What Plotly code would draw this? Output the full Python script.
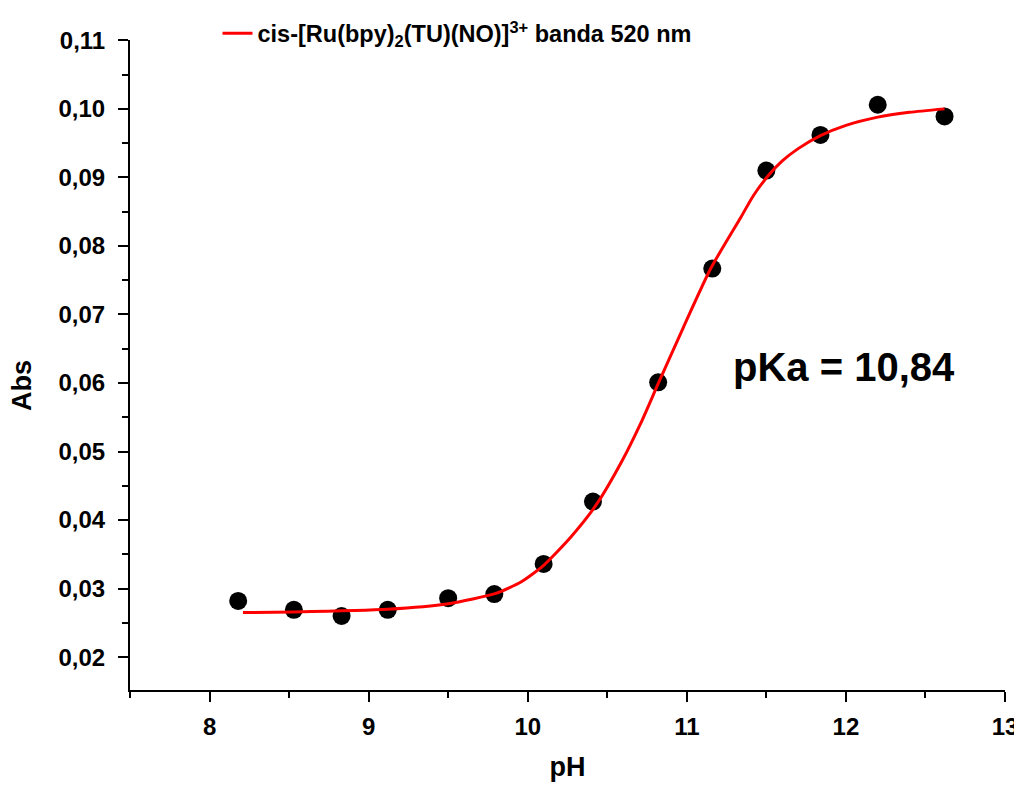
import plotly.graph_objects as go

# Measured points
ph = [8.18, 8.53, 8.83, 9.12, 9.50, 9.79, 10.10, 10.41, 10.82, 11.16, 11.50, 11.84, 12.20, 12.62]
absorb = [0.0282, 0.0269, 0.0260, 0.0269, 0.0286, 0.0292, 0.0336, 0.0427, 0.0601, 0.0767, 0.0910, 0.0962, 0.1006, 0.0989]

# Fit curve
fit_ph = [8.21, 8.53, 9.12, 9.50, 9.80, 9.96, 10.10, 10.27, 10.43, 10.59, 10.71, 10.82,
          10.98, 11.15, 11.34, 11.42, 11.51, 11.60, 11.70, 11.84, 12.00, 12.20, 12.40, 12.62]
fit_abs = [0.0265, 0.0266, 0.0270, 0.0278, 0.0293, 0.0310, 0.0334, 0.0375, 0.0422, 0.0485,
           0.0541, 0.0599, 0.0682, 0.0767, 0.0842, 0.0874, 0.0902, 0.0924, 0.0942, 0.0961,
           0.0976, 0.0988, 0.0995, 0.1000]

legend_label = "cis-[Ru(bpy)<sub>2</sub>(TU)(NO)]<sup>3+</sup> banda 520 nm"
pka_label = "pKa = 10,84"
x_title = "pH"
y_title = "Abs"

FONT = "Liberation Sans, Arial, sans-serif"

fig = go.Figure()
fig.add_trace(go.Scatter(
    x=ph, y=absorb, mode="markers",
    marker=dict(color="black", size=18),
    showlegend=False, cliponaxis=False,
))
fig.add_trace(go.Scatter(
    x=fit_ph, y=fit_abs, mode="lines",
    line=dict(color="#ff0000", width=3, shape="spline", smoothing=0.6),
    name=legend_label, showlegend=True,
))

fig.add_annotation(
    x=11.28, y=0.0623, xref="x", yref="y", text=pka_label, showarrow=False,
    xanchor="left", yanchor="middle",
    font=dict(family=FONT, size=40, color="black", weight="bold"),
)
fig.add_annotation(
    x=-0.1234, y=0.4677, xref="paper", yref="paper", text=y_title, showarrow=False,
    xanchor="center", yanchor="middle", textangle=-90,
    font=dict(family=FONT, size=27, color="black", weight="bold"),
)

axis_common = dict(
    showline=True, linecolor="black", linewidth=2,
    ticks="outside", ticklen=10, tickwidth=2, tickcolor="black",
    showgrid=False, zeroline=False, mirror=False, automargin=False,
    tickfont=dict(family=FONT, size=24, color="black", weight="bold"),
)

fig.update_layout(
    width=1014, height=775,
    margin=dict(l=122, r=17, t=32, b=93, autoexpand=False),
    plot_bgcolor="white", paper_bgcolor="white",
    separators=",.",
    font=dict(family=FONT, color="black"),
    showlegend=True,
    legend=dict(
        x=0.1, y=1.01, xanchor="left", yanchor="middle",
        bgcolor="rgba(0,0,0,0)",
        font=dict(family=FONT, size=23.5, color="black", weight="bold"),
    ),
    xaxis=dict(
        range=[7.5, 13], dtick=1, tick0=0, ticklabelstandoff=4,
        minor=dict(dtick=0.5, ticklen=6, tickwidth=2, tickcolor="black", ticks="outside"),
        title=dict(text=x_title, font=dict(family=FONT, size=27, color="black", weight="bold"), standoff=18),
        **axis_common,
    ),
    yaxis=dict(
        range=[0.0152, 0.11005], dtick=0.01, tick0=0, tickformat=".2f", ticklabelstandoff=8,
        minor=dict(dtick=0.005, ticklen=6, tickwidth=2, tickcolor="black", ticks="outside"),
        **axis_common,
    ),
)

fig.write_html("out.html")
